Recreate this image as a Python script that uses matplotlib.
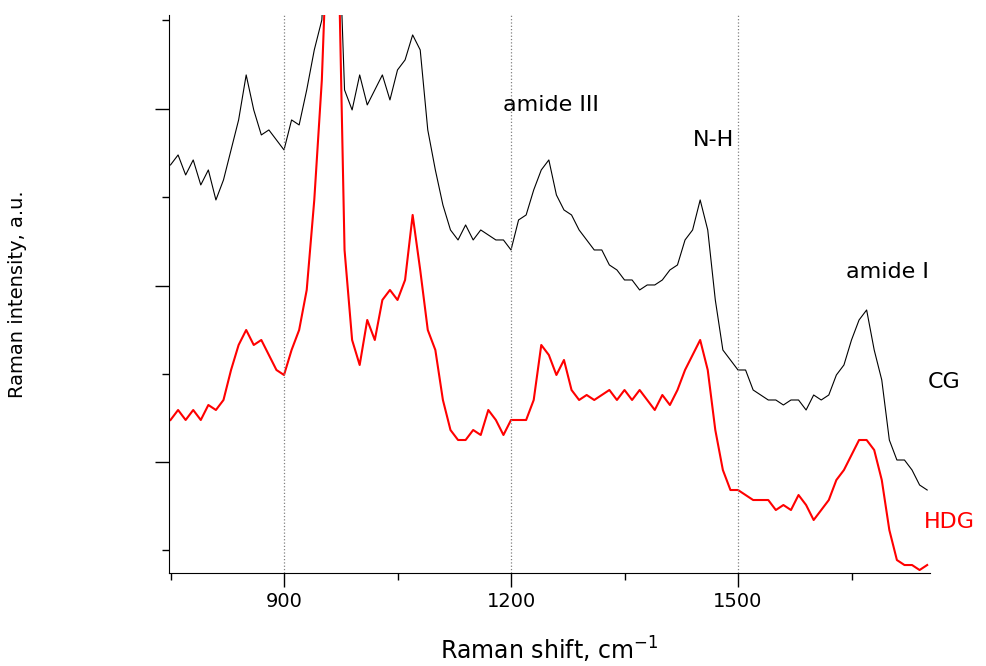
import numpy as np
import matplotlib.pyplot as plt
from matplotlib.ticker import FixedLocator

# Raman shift, cm-1 (sampled every 10 cm-1)
shift = np.arange(750, 1751, 10)

# control group (CG), offset intensity
cg = [408, 418, 398, 413, 388,
      403, 373, 393, 423, 453, 498, 463, 438, 443, 433,
      423, 453, 448, 483, 523, 553, 700, 700, 483, 463,
      498, 468, 483, 498, 473, 503, 513, 538, 523, 443,
      403, 368, 343, 333, 348, 333, 343, 338, 333, 333,
      323, 353, 358, 383, 403, 413, 378, 363, 358, 343,
      333, 323, 323, 308, 303, 293, 293, 283, 288, 288,
      293, 303, 308, 333, 343, 373, 343, 273, 223, 213,
      203, 203, 183, 178, 173, 173, 168, 173, 173, 163,
      178, 173, 178, 198, 208, 233, 253, 263, 223, 193,
      133, 113, 113, 103, 88, 83]

# HDG group
hdg = [153, 163, 153, 163, 153,
       168, 163, 173, 203, 228, 243, 228, 233, 218, 203,
       198, 223, 243, 283, 373, 493, 700, 700, 323, 233,
       208, 253, 233, 273, 283, 273, 293, 358, 303, 243,
       223, 173, 143, 133, 133, 143, 138, 163, 153, 138,
       153, 153, 153, 173, 228, 218, 198, 213, 183, 173,
       178, 173, 178, 183, 173, 183, 173, 183, 173, 163,
       178, 168, 183, 203, 218, 233, 203, 143, 103, 83,
       83, 78, 73, 73, 73, 63, 68, 63, 78, 68,
       53, 63, 73, 93, 103, 118, 133, 133, 123, 93,
       43, 13, 8, 8, 3, 8]

annotations = [("amide III", 1253, 468, "black"), ("N-H", 1468, 433, "black"),
               ("amide I", 1698, 301, "black"), ("CG", 1773, 191, "black"),
               ("HDG", 1780, 51, "red")]

fig = plt.figure(figsize=(9.86, 6.66), dpi=100)
ax = fig.add_axes([0.1714, 0.1396, 0.772, 0.838])

ax.plot(shift, cg, color="black", linewidth=0.8)
ax.plot(shift, hdg, color="red", linewidth=1.5)

ax.set_xlim(748, 1754)
ax.set_ylim(0, 558)

for x in [900, 1200, 1500]:
    ax.axvline(x, color="grey", linestyle=":", linewidth=0.9)

for txt, x, y, c in annotations:
    ax.text(x, y, txt, fontsize=16, color=c, ha="center", va="center", clip_on=False)

ax.spines["top"].set_visible(False)
ax.spines["right"].set_visible(False)
ax.xaxis.set_major_locator(FixedLocator([900, 1200, 1500]))
ax.xaxis.set_minor_locator(FixedLocator([750, 1050, 1350, 1650]))
ax.yaxis.set_major_locator(FixedLocator([111, 287, 464]))
ax.yaxis.set_minor_locator(FixedLocator([23, 199, 376, 553]))
ax.set_yticklabels([])
ax.tick_params(which="major", length=10, width=1, labelsize=14)
ax.tick_params(which="minor", length=5, width=1)

fig.text(549 / 986, 1 - 650 / 666, "Raman shift, cm$^{-1}$", fontsize=17,
         ha="center", va="center")
fig.text(18 / 986, 1 - 294 / 666, "Raman intensity, a.u.", fontsize=14,
         rotation=90, ha="center", va="center")

fig.savefig("out.png", dpi=100)
